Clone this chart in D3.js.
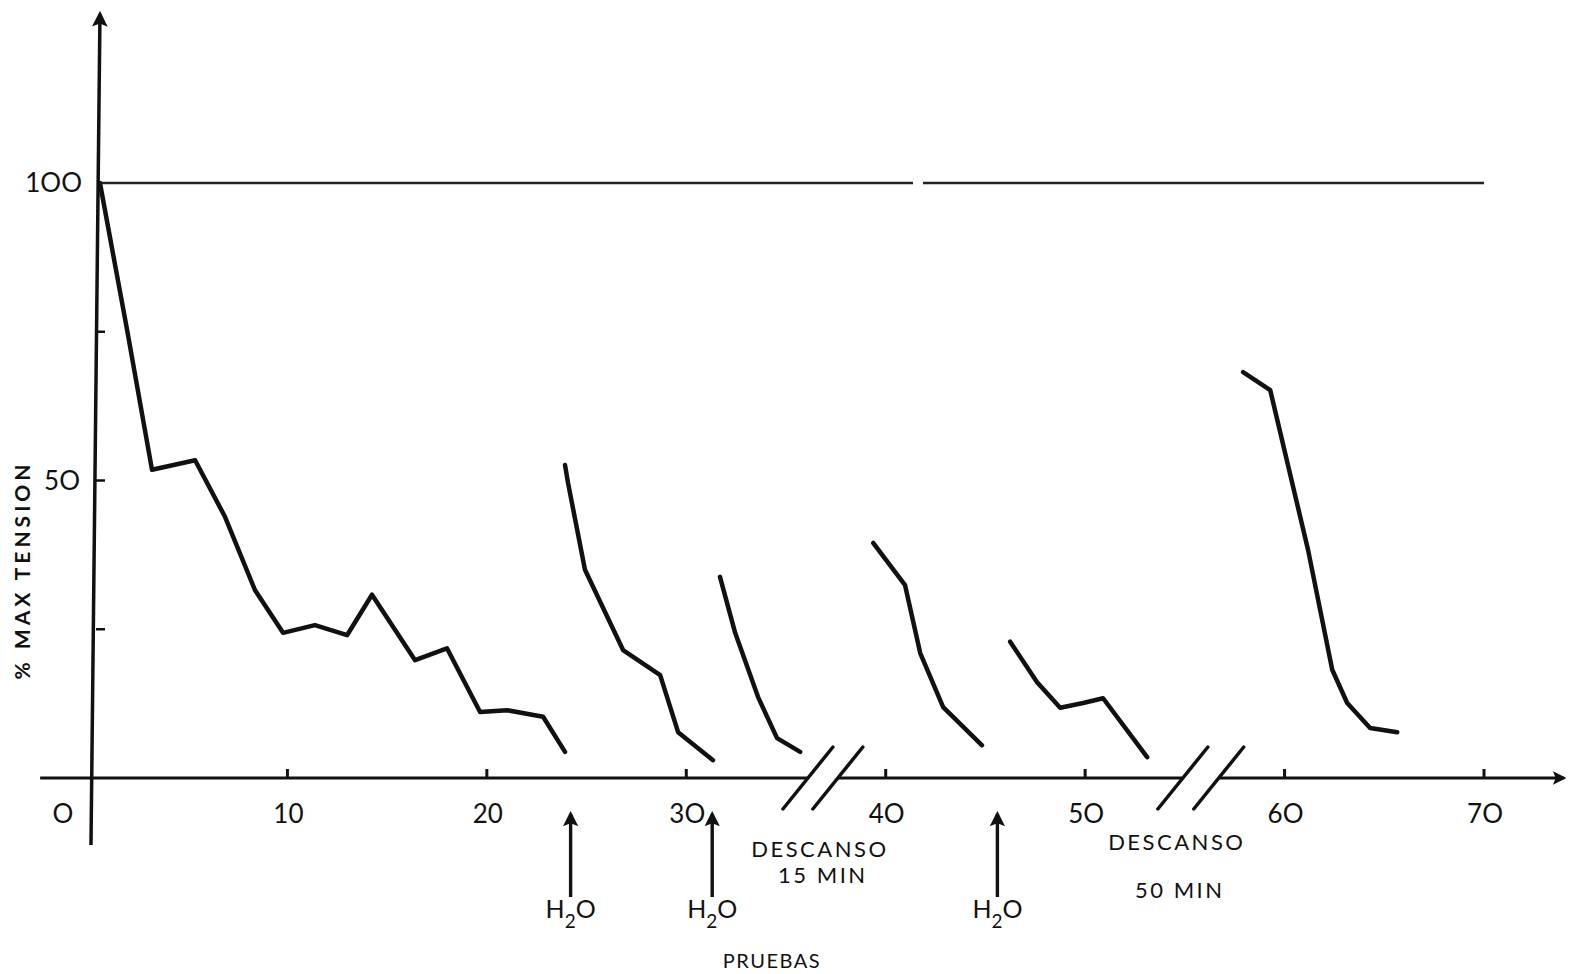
<!DOCTYPE html>
<html>
<head>
<meta charset="utf-8">
<script src="https://d3js.org/d3.v7.min.js"></script>
<style>
  body { margin: 0; background: #fff; }
  text { font-family: Lato, "Open Sans", sans-serif; fill: #111; }
</style>
</head>
<body>
<div class="graph-bd"></div>
<script>
// trials (x) and % of max tension (y), one pair of arrays per bout
const bout1Trials  = [0.6, 1.96, 3.21, 5.37, 6.87, 8.37, 9.78, 11.38, 12.99, 14.24, 16.4, 18.0, 19.66, 21.01, 22.82, 23.92]
const bout1Tension = [100, 75.3, 51.8, 53.4, 43.9, 31.6, 24.4, 25.7, 24.0, 30.8, 19.8, 21.8, 11.1, 11.4, 10.3, 4.4]
const bout2Trials  = [23.92, 24.07, 24.92, 26.83, 28.69, 29.59, 31.34]
const bout2Tension = [52.6, 49.6, 35.0, 21.5, 17.3, 7.7, 3.0]
const bout3Trials  = [31.69, 32.45, 33.6, 34.55, 35.71]
const bout3Tension = [33.8, 24.4, 13.6, 6.7, 4.4]
const bout4Trials  = [39.37, 40.97, 41.73, 42.88, 44.83]
const bout4Tension = [39.5, 32.4, 21.0, 11.9, 5.5]
const bout5Trials  = [46.24, 47.59, 48.75, 49.9, 50.9, 53.11]
const bout5Tension = [22.9, 16.1, 11.8, 12.6, 13.4, 3.5]
const bout6Trials  = [57.92, 59.28, 61.18, 62.39, 63.14, 64.29, 65.65]
const bout6Tension = [68.2, 65.2, 38.3, 18.2, 12.6, 8.4, 7.7]

const xTickValues = [10, 20, 30, 40, 50, 60, 70]
const xTickLabels = ["O", "10", "20", "3O", "4O", "5O", "6O", "7O"]
const yTickValues = [25, 50, 75]
const yTickLabels = ["5O", "1OO"]
const yLabelValues = [50, 100]

const waterTrials = [24.2, 31.3, 45.6]        // H2O given
const restBreaks = [[36.1, 37.6], [54.9, 56.7]] // axis breaks
const restText = [["DESCANSO", "15 MIN"], ["DESCANSO", "50 MIN"]]

function run() {
    let root = document.querySelector('.graph-bd')
    let w = 1576, h = 974
    let svg = d3.select(root).append("svg")
        .attr("width", w)
        .attr("height", h)

    let x = d3.scaleLinear().domain([0, 70]).range([88, 1484])
    let y = d3.scaleLinear().domain([0, 100]).range([778, 183])

    let defs = svg.append("defs")
    defs.append("marker")
        .attr("id", "head")
        .attr("viewBox", "0 0 10 10")
        .attr("refX", 8).attr("refY", 5)
        .attr("markerWidth", 4.5).attr("markerHeight", 5)
        .attr("markerUnits", "strokeWidth")
        .attr("orient", "auto")
        .append("path")
        .attr("d", "M0,0 L10,5 L0,10 L2,5 Z")
        .attr("fill", "#111")

    // 100% reference line (with the small gap of the original)
    let gapAt = x.invert(913), gapEnd = x.invert(923)
    svg.append("line")
        .attr("x1", x(0.5)).attr("x2", x(gapAt))
        .attr("y1", y(100)).attr("y2", y(100))
        .attr("stroke", "#222").attr("stroke-width", 2.4)
    svg.append("line")
        .attr("x1", x(gapEnd)).attr("x2", x(70))
        .attr("y1", y(100)).attr("y2", y(100))
        .attr("stroke", "#222").attr("stroke-width", 2.4)

    // x axis, broken at the rests
    let pieces = [[-2.4, restBreaks[0][0]], [restBreaks[0][1], restBreaks[1][0]], [restBreaks[1][1], 74]]
    pieces.forEach(function(p, i) {
        svg.append("line")
            .attr("x1", x(p[0])).attr("x2", x(p[1]))
            .attr("y1", y(0)).attr("y2", y(0))
            .attr("stroke", "#111").attr("stroke-width", 3)
            .attr("marker-end", i == 2 ? "url(#head)" : null)
    })
    // break slashes
    restBreaks.forEach(function(b) {
        b.forEach(function(v) {
            svg.append("line")
                .attr("x1", x(v) - 25).attr("y1", y(0) + 31)
                .attr("x2", x(v) + 25).attr("y2", y(0) - 31)
                .attr("stroke", "#111").attr("stroke-width", 3.5)
                .attr("stroke-linecap", "round")
        })
    })
    // x ticks
    svg.selectAll(".xtick").data(xTickValues).enter().append("line")
        .attr("class", "xtick")
        .attr("x1", d => x(d)).attr("x2", d => x(d))
        .attr("y1", y(0)).attr("y2", y(0) - 9)
        .attr("stroke", "#111").attr("stroke-width", 3)
    svg.selectAll(".xlab").data([0].concat(xTickValues)).enter().append("text")
        .attr("class", "xlab")
        .attr("x", d => d == 0 ? 63 : x(d) + 1)
        .attr("y", y(0) + 45)
        .attr("text-anchor", "middle")
        .attr("font-size", 26)
        .text((d, i) => xTickLabels[i])

    // y axis (slightly leaning, as drawn)
    svg.append("line")
        .attr("x1", x(0.15)).attr("y1", 845)
        .attr("x2", x(0.6)).attr("y2", 14)
        .attr("stroke", "#111").attr("stroke-width", 3.5)
        .attr("marker-end", "url(#head)")
    svg.selectAll(".ytick").data(yTickValues).enter().append("line")
        .attr("class", "ytick")
        .attr("x1", d => x(0.4)).attr("x2", d => x(0.4) + 9)
        .attr("y1", d => y(d)).attr("y2", d => y(d))
        .attr("stroke", "#111").attr("stroke-width", 2.5)
    svg.selectAll(".ylab").data(yLabelValues).enter().append("text")
        .attr("class", "ylab")
        .attr("x", d => d == 100 ? 82 : 80)
        .attr("y", d => y(d) + 9)
        .attr("text-anchor", "end")
        .attr("font-size", 26)
        .text((d, i) => yTickLabels[i])
    svg.append("text")
        .attr("transform", "translate(30," + 570 + ") rotate(-90)")
        .attr("text-anchor", "middle")
        .attr("font-size", 21)
        .attr("font-weight", "bold")
        .attr("letter-spacing", 4)
        .text("% MAX TENSION")

    // data lines
    let bouts = [
        [bout1Trials, bout1Tension], [bout2Trials, bout2Tension], [bout3Trials, bout3Tension],
        [bout4Trials, bout4Tension], [bout5Trials, bout5Tension], [bout6Trials, bout6Tension]
    ]
    let line = d3.line().x(d => x(d[0])).y(d => y(d[1]))
    svg.selectAll(".bout").data(bouts).enter().append("path")
        .attr("class", "bout")
        .attr("d", b => line(d3.zip(b[0], b[1])))
        .attr("fill", "none")
        .attr("stroke", "#111")
        .attr("stroke-width", 4.5)
        .attr("stroke-linejoin", "round")
        .attr("stroke-linecap", "round")

    // water arrows
    let water = svg.selectAll(".water").data(waterTrials).enter().append("g")
        .attr("class", "water")
    water.append("line")
        .attr("x1", d => x(d)).attr("x2", d => x(d))
        .attr("y1", 897).attr("y2", 814)
        .attr("stroke", "#111").attr("stroke-width", 3.4)
        .attr("marker-end", "url(#head)")
    let h2o = water.append("text")
        .attr("x", d => x(d) - 25)
        .attr("y", 918)
        .attr("font-size", 25)
    h2o.append("tspan").text("H")
    h2o.append("tspan").attr("dy", 10).attr("font-size", 19).text("2")
    h2o.append("tspan").attr("dy", -10).text("O")

    // rest labels
    let restX = [x((restBreaks[0][0] + restBreaks[0][1]) / 2) - 3, x((restBreaks[1][0] + restBreaks[1][1]) / 2) - 24]
    let restY = [[849, 875], [842, 890]]
    restText.forEach(function(t, i) {
        t.forEach(function(s, j) {
            svg.append("text")
                .attr("x", restX[i] + (j == 1 ? 3 : 0))
                .attr("y", restY[i][j] + 8)
                .attr("text-anchor", "middle")
                .attr("font-size", 22)
                .attr("letter-spacing", 2.5)
                .text(s)
        })
    })
    svg.append("text")
        .attr("x", 772).attr("y", 968)
        .attr("text-anchor", "middle")
        .attr("font-size", 20)
        .attr("letter-spacing", 1.5)
        .text("PRUEBAS")
}
window.addEventListener('load', run)
</script>
</body>
</html>
